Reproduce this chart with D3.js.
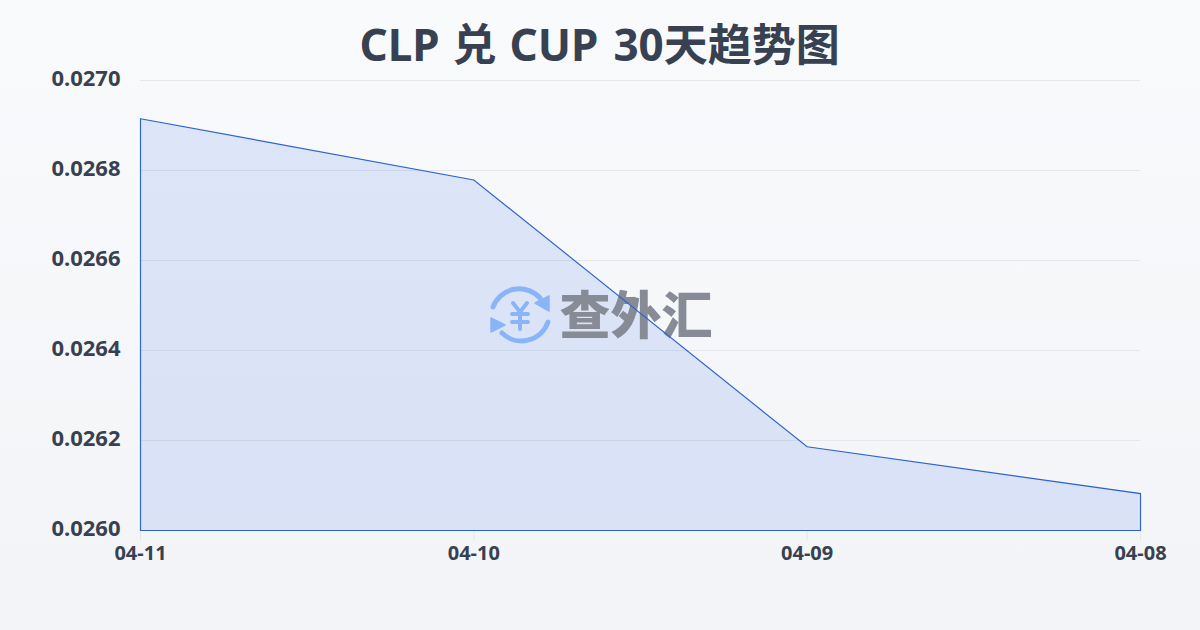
<!DOCTYPE html>
<html><head><meta charset="utf-8">
<script src="https://cdn.jsdelivr.net/npm/d3@7/dist/d3.min.js"></script>
<style>
html,body{margin:0;padding:0;width:1200px;height:630px;overflow:hidden}
body{background:linear-gradient(180deg,#f9fafc 0%,#f3f4f7 100%)}
svg{display:block;position:absolute;left:0;top:0}
text{font-family:"Noto Sans","Noto Sans CJK SC",sans-serif}
</style></head><body>
<svg id="c" width="1200" height="630"></svg>
<script>
const titleHead = "CLP 兑 CUP";
const titleTail = "30天趋势图";
const dates = ["04-11","04-10","04-09","04-08"];
const rates = [0.026915,0.026779,0.026186,0.026082];
const yTicks = [0.026,0.0262,0.0264,0.0266,0.0268,0.027];

const svg = d3.select("#c");
const x = d3.scalePoint().domain(dates).range([140.5,1140.5]);
const y = d3.scaleLinear().domain([0.026,0.027]).range([530.5,80.5]);

const title = svg.append("text").attr("x",359.5).attr("y",61)
  .attr("font-size",44).attr("font-weight",700).attr("fill","#374151");
title.append("tspan").attr("word-spacing",1.5).text(titleHead);
title.append("tspan").attr("dx",15).text(titleTail);

svg.append("g").selectAll("line").data(yTicks).join("line")
  .attr("x1",140).attr("x2",1140).attr("y1",d=>y(d)).attr("y2",d=>y(d))
  .attr("stroke","#e5e7eb").attr("stroke-width",1);

svg.append("g").selectAll("text").data(yTicks).join("text")
  .attr("x",120.5).attr("y",d=>y(d)+5.5).attr("text-anchor","end")
  .attr("font-size",22).attr("font-weight",700).attr("fill","#374151")
  .text(d=>d3.format(".4f")(d));

const bottom = y(0.026);
svg.append("g").selectAll("line").data(dates).join("line")
  .attr("x1",d=>x(d)).attr("x2",d=>x(d)).attr("y1",bottom).attr("y2",bottom+10)
  .attr("stroke","#e5e7eb");

svg.append("g").selectAll("text").data(dates).join("text")
  .attr("x",d=>x(d)).attr("y",559.5).attr("text-anchor","middle")
  .attr("font-size",20).attr("font-weight",700).attr("fill","#374151").text(d=>d);

const pts = dates.map((d,i)=>({d,v:rates[i]}));
const area = d3.area().x(p=>x(p.d)).y0(bottom).y1(p=>y(p.v));
svg.append("path").datum(pts).attr("d",area).attr("fill","#2563eb").attr("fill-opacity",0.13);

// watermark
const wm = svg.append("g");
const blue="#8ab4f8";
wm.append("path").attr("d","M493 307 A28 28 0 0 1 540 298").attr("fill","none").attr("stroke",blue).attr("stroke-width",5).attr("stroke-linecap","round");
wm.append("path").attr("d","M549 296 L549 311 L535 303 Z").attr("fill",blue).attr("stroke",blue).attr("stroke-width",1.5).attr("stroke-linejoin","round");
wm.append("path").attr("d","M548 322 A28 28 0 0 1 502 333").attr("fill","none").attr("stroke",blue).attr("stroke-width",5).attr("stroke-linecap","round");
wm.append("path").attr("d","M491 318 L491 332 L505 325 Z").attr("fill",blue).attr("stroke",blue).attr("stroke-width",1.5).attr("stroke-linejoin","round");
wm.append("path").attr("d","M513 303 L520 312 L527 303 M512 314 H528 M512 322 H528 M520 312 V329").attr("fill","none").attr("stroke",blue).attr("stroke-width",4).attr("stroke-linecap","round");
wm.append("text").attr("x",636).attr("y",334).attr("text-anchor","middle")
  .attr("font-size",51).attr("font-weight",900).attr("fill","#868b96")
  .style("font-family",'"Noto Sans CJK SC"').text("查外汇");

svg.append("path").datum(pts)
  .attr("d",area).attr("fill","none").attr("stroke","#2d62cf").attr("stroke-width",1.15);
</script>
</body></html>
